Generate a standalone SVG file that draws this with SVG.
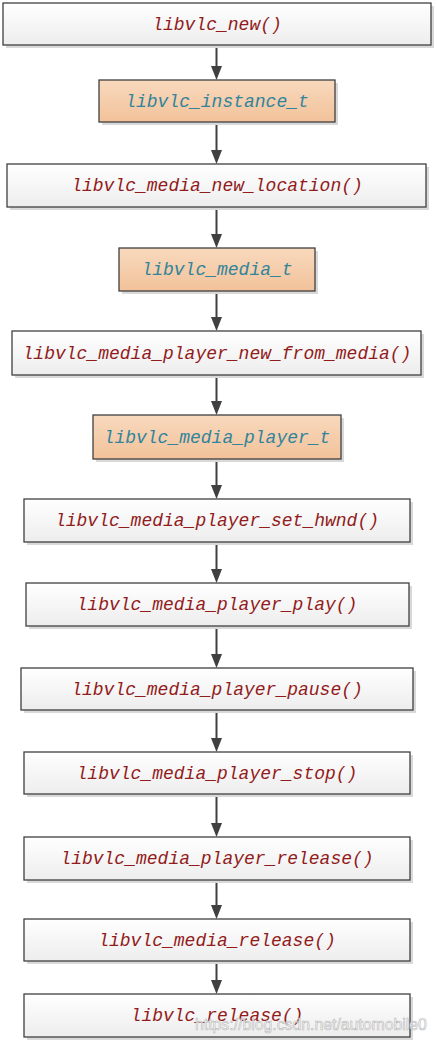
<svg xmlns="http://www.w3.org/2000/svg" width="437" height="1044" viewBox="0 0 437 1044">
<style>
.box{stroke:#404040;stroke-width:1.3}
.fn{fill:url(#gw)}
.ty{fill:url(#go)}
.sh{fill:#d9d9d9}
text.t{font-family:"Liberation Mono",monospace;font-style:italic;font-size:18px;text-anchor:middle}
.red{fill:#921b1b}
.teal{fill:#31849b}
.conn line{stroke:#404040;stroke-width:2}
.conn path{fill:#404040}
</style>
<defs>
<linearGradient id="gw" x1="0" y1="0" x2="0" y2="1"><stop offset="0" stop-color="#ffffff"/><stop offset="1" stop-color="#ededed"/></linearGradient>
<linearGradient id="go" x1="0" y1="0" x2="0" y2="1"><stop offset="0" stop-color="#f8d9bd"/><stop offset="1" stop-color="#f2c29a"/></linearGradient>
</defs>
<rect width="437" height="1044" fill="#ffffff"/>
<g class="conn">
<line x1="216.5" y1="45" x2="216.5" y2="67"/><path d="M211,66 L222,66 L216.5,80 Z"/>
<line x1="216.5" y1="122" x2="216.5" y2="151"/><path d="M211,150 L222,150 L216.5,164 Z"/>
<line x1="216.5" y1="207" x2="216.5" y2="235"/><path d="M211,234 L222,234 L216.5,248 Z"/>
<line x1="216.5" y1="291" x2="216.5" y2="318"/><path d="M211,317 L222,317 L216.5,331 Z"/>
<line x1="216.5" y1="375" x2="216.5" y2="402"/><path d="M211,401 L222,401 L216.5,415 Z"/>
<line x1="216.5" y1="459" x2="216.5" y2="486"/><path d="M211,485 L222,485 L216.5,499 Z"/>
<line x1="216.5" y1="542" x2="216.5" y2="570"/><path d="M211,569 L222,569 L216.5,583 Z"/>
<line x1="216.5" y1="626" x2="216.5" y2="655"/><path d="M211,654 L222,654 L216.5,668 Z"/>
<line x1="216.5" y1="710" x2="216.5" y2="739"/><path d="M211,738 L222,738 L216.5,752 Z"/>
<line x1="216.5" y1="794" x2="216.5" y2="824"/><path d="M211,823 L222,823 L216.5,837 Z"/>
<line x1="216.5" y1="880" x2="216.5" y2="906"/><path d="M211,905 L222,905 L216.5,919 Z"/>
<line x1="216.5" y1="961" x2="216.5" y2="981"/><path d="M211,980 L222,980 L216.5,994 Z"/>
</g>
<g id="n1"><rect class="sh" x="6" y="6" width="428" height="42"/><rect class="box fn" x="3" y="3" width="428" height="42"/><text class="t red" x="217" y="30">libvlc_new()</text></g>
<g id="n2"><rect class="sh" x="102" y="83" width="236" height="42"/><rect class="box ty" x="99" y="80" width="236" height="42"/><text class="t teal" x="217" y="107">libvlc_instance_t</text></g>
<g id="n3"><rect class="sh" x="10" y="167" width="419" height="43"/><rect class="box fn" x="7" y="164" width="419" height="43"/><text class="t red" x="217" y="191">libvlc_media_new_location()</text></g>
<g id="n4"><rect class="sh" x="122" y="251" width="196" height="43"/><rect class="box ty" x="119" y="248" width="196" height="43"/><text class="t teal" x="217" y="275">libvlc_media_t</text></g>
<g id="n5"><rect class="sh" x="15" y="334" width="409" height="44"/><rect class="box fn" x="12" y="331" width="409" height="44"/><text class="t red" x="217" y="359">libvlc_media_player_new_from_media()</text></g>
<g id="n6"><rect class="sh" x="96" y="418" width="248" height="44"/><rect class="box ty" x="93" y="415" width="248" height="44"/><text class="t teal" x="217" y="443">libvlc_media_player_t</text></g>
<g id="n7"><rect class="sh" x="27" y="502" width="386" height="43"/><rect class="box fn" x="24" y="499" width="386" height="43"/><text class="t red" x="217" y="526">libvlc_media_player_set_hwnd()</text></g>
<g id="n8"><rect class="sh" x="29" y="586" width="383" height="43"/><rect class="box fn" x="26" y="583" width="383" height="43"/><text class="t red" x="217" y="610">libvlc_media_player_play()</text></g>
<g id="n9"><rect class="sh" x="24" y="671" width="392" height="42"/><rect class="box fn" x="21" y="668" width="392" height="42"/><text class="t red" x="217" y="695">libvlc_media_player_pause()</text></g>
<g id="n10"><rect class="sh" x="27" y="755" width="386" height="42"/><rect class="box fn" x="24" y="752" width="386" height="42"/><text class="t red" x="217" y="779">libvlc_media_player_stop()</text></g>
<g id="n11"><rect class="sh" x="27" y="840" width="386" height="43"/><rect class="box fn" x="24" y="837" width="386" height="43"/><text class="t red" x="217" y="864">libvlc_media_player_release()</text></g>
<g id="n12"><rect class="sh" x="27" y="922" width="386" height="42"/><rect class="box fn" x="24" y="919" width="386" height="42"/><text class="t red" x="217" y="946">libvlc_media_release()</text></g>
<g id="n13"><rect class="sh" x="27" y="997" width="386" height="43"/><rect class="box fn" x="24" y="994" width="386" height="43"/><text class="t red" x="217" y="1021">libvlc_release()</text></g>
<text x="195" y="1030" font-family="Liberation Sans,Arial,sans-serif" font-size="15.8" fill="#ffffff" fill-opacity="0.85" stroke="#b8b8b8" stroke-width="0.6">https://blog.csdn.net/automobile0</text>
</svg>
